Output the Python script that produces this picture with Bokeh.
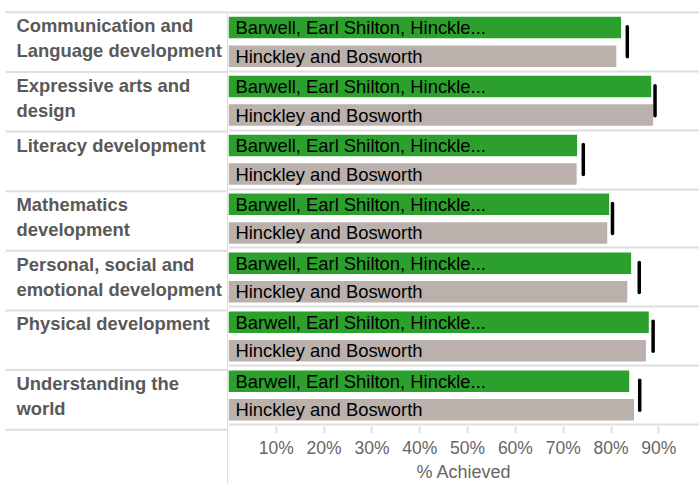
from bokeh.plotting import figure
from bokeh.layouts import row
from bokeh.models import Range1d, FixedTicker, ColumnDataSource
from bokeh.core.properties import value
from bokeh.embed import file_html
from bokeh.resources import INLINE

# ---------------- data ----------------
categories = [
    "Communication and\nLanguage development",
    "Expressive arts and\ndesign",
    "Literacy development",
    "Mathematics\ndevelopment",
    "Personal, social and\nemotional development",
    "Physical development",
    "Understanding the\nworld",
]
area_name = "Barwell, Earl Shilton, Hinckle..."
district_name = "Hinckley and Bosworth"
area_values = [82.1, 88.4, 72.9, 79.6, 84.2, 87.9, 83.8]
district_values = [81.1, 88.8, 72.8, 79.2, 83.4, 87.3, 84.8]
marker_values = [83.4, 89.2, 74.2, 80.3, 85.9, 88.8, 86.0]
tick_values = [10, 20, 30, 40, 50, 60, 70, 80, 90]
tick_labels = ["10%", "20%", "30%", "40%", "50%", "60%", "70%", "80%", "90%"]
x_title = "% Achieved"

# ---------------- layout constants ----------------
FONT = value("Liberation Sans")
GREEN = "#2ca02c"
GREY = "#bab0ac"
SEP = "#dedede"
LEFT_W = 228
TOTAL_W = 699
TOTAL_H = 484
TOP = 10
BOTTOM = 53
FRAME_H = TOTAL_H - TOP - BOTTOM
PAD = 0.03

n = len(categories)
centers = [n - 0.5 - i for i in range(n)]
row_tops = [n - i for i in range(n)]
bounds = list(range(n + 1))

k = FRAME_H / (n + 2 * PAD)

src = ColumnDataSource(dict(
    yc=centers,
    top=row_tops,
    cat=categories,
    area=area_values,
    dist=district_values,
    mark=marker_values,
    y_area=[c + 0.24 for c in centers],
    y_dist=[c - 0.245 for c in centers],
    m0=[c - 0.255 for c in centers],
    m1=[c + 0.255 for c in centers],
    area_lbl=[area_name] * n,
    dist_lbl=[district_name] * n,
))

# ---------------- left label panel ----------------
y_bottom_left = -PAD - BOTTOM / k
left = figure(width=LEFT_W, height=TOTAL_H,
              x_range=Range1d(0, LEFT_W),
              y_range=Range1d(y_bottom_left, n + PAD + TOP / k),
              toolbar_location=None, output_backend="svg",
              x_axis_location=None, y_axis_location=None, min_border=0)
left.frame_align = False
left.outline_line_color = None
left.xgrid.visible = False
left.ygrid.visible = False
left.segment(x0=[5] * len(bounds), y0=bounds, x1=[LEFT_W] * len(bounds), y1=bounds,
             line_color=SEP, line_width=2)
left.segment(x0=[LEFT_W - 0.5], y0=[n], x1=[LEFT_W - 0.5], y1=[y_bottom_left],
             line_color=SEP, line_width=2)
left.text(x=16, y="top", text="cat", source=src, text_font=FONT,
          text_font_size="18.4px", text_font_style="bold", text_color="#595959",
          text_align="left", text_baseline="top", y_offset=3,
          text_line_height=1.18)

# ---------------- bar panel ----------------
p = figure(width=TOTAL_W - LEFT_W, height=TOTAL_H,
           x_range=Range1d(0, 98.5), y_range=Range1d(-PAD, n + PAD),
           toolbar_location=None, output_backend="svg",
           y_axis_location=None, min_border_left=0, min_border_right=0,
           min_border_top=TOP, min_border_bottom=BOTTOM)
p.frame_align = False
p.outline_line_color = None
p.xgrid.visible = False
p.ygrid.visible = False

p.hspan(y=bounds, line_color=SEP, line_width=2)
p.hbar(y="y_area", left=0, right="area", height=0.365, source=src,
       fill_color=GREEN, line_color=None)
p.hbar(y="y_dist", left=0, right="dist", height=0.365, source=src,
       fill_color=GREY, line_color=None)
p.text(x=0, y="y_area", text="area_lbl", source=src, x_offset=7,
       text_font=FONT, text_font_size="18.4px", text_color="#000000",
       text_align="left", text_baseline="middle")
p.text(x=0, y="y_dist", text="dist_lbl", source=src, x_offset=7,
       text_font=FONT, text_font_size="18.4px", text_color="#000000",
       text_align="left", text_baseline="middle")
p.segment(x0="mark", y0="m0", x1="mark", y1="m1", source=src,
          line_color="black", line_width=3.5, line_cap="round")

ax = p.xaxis[0]
ax.ticker = FixedTicker(ticks=tick_values)
ax.major_label_overrides = dict(zip(tick_values, tick_labels))
ax.axis_line_color = None
ax.major_tick_line_color = SEP
ax.major_tick_line_width = 2
ax.major_tick_out = 7
ax.major_tick_in = 0
ax.minor_tick_line_color = None
ax.major_label_standoff = 4
ax.major_label_text_font = "Liberation Sans"
ax.major_label_text_font_size = "17.5px"
ax.major_label_text_color = "#666666"
ax.axis_label = x_title
ax.axis_label_standoff = 1
ax.axis_label_text_font = "Liberation Sans"
ax.axis_label_text_font_size = "18px"
ax.axis_label_text_font_style = "normal"
ax.axis_label_text_color = "#666666"

layout = row(left, p)
open("out.html", "w").write(file_html(layout, INLINE))
